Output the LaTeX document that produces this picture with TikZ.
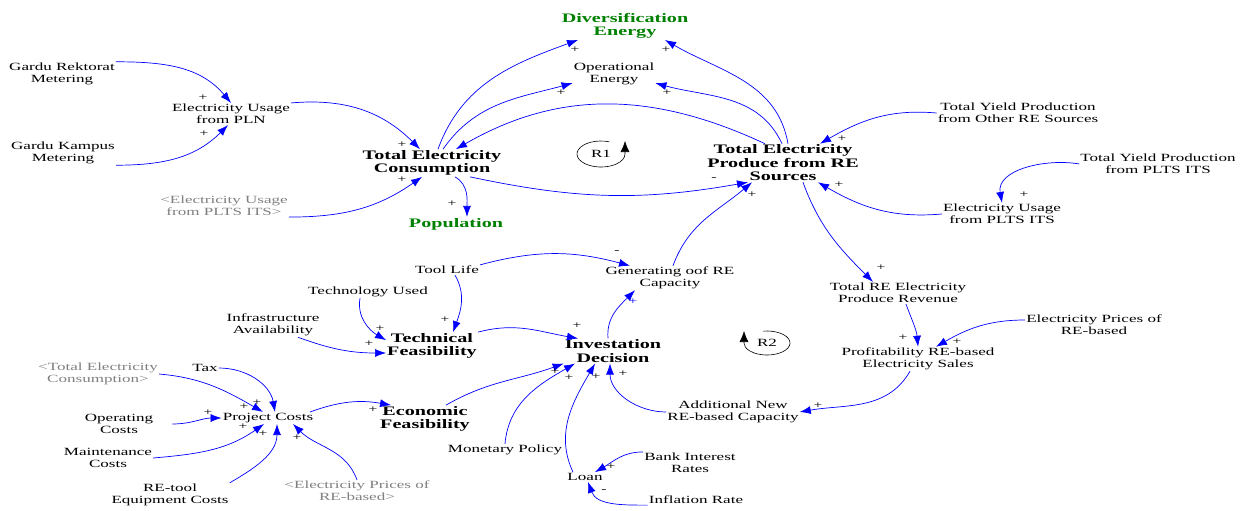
\documentclass[tikz,border=0pt]{standalone}
\usepackage{fontspec}
\setmainfont{Liberation Serif}[FakeStretch=1.55]
\usetikzlibrary{arrows.meta}
\definecolor{vgreen}{RGB}{0,128,0}
\definecolor{vgray}{RGB}{128,128,128}
\tikzset{
  var/.style={align=center,inner sep=1pt,font=\fontsize{11}{12}\selectfont},
  key/.style={var,font=\fontsize{13}{13.5}\selectfont\bfseries},
  goal/.style={key,text=vgreen},
  shadow/.style={var,text=vgray},
  link/.style={draw=blue,line width=0.7pt,-{Latex[length=11pt,width=8pt]}},
  loopar/.style={draw=black,line width=0.6pt,-{Latex[length=11pt,width=9pt]}},
  sgn/.style={inner sep=0pt,font=\fontsize{10}{10}\selectfont}
}
\begin{document}
\begin{tikzpicture}[x=1pt,y=-1pt]
\useasboundingbox (0,0) rectangle (1247,511);
		\begin{scope}[every node/.style={var}]
		\node (gardurek) at (62,74) {Gardu Rektorat\\Metering};
		\node (garduk) at (63,153) {Gardu Kampus\\Metering};
		\node (usagepln) at (231,114) {Electricity Usage\\from PLN};
		\node[shadow] (pltsgray) at (224,206) {<Electricity Usage\\from PLTS ITS>};
		\node[key] (totcons) at (432,163) {Total Electricity\\Consumption};
		\node[goal] (population) at (456,224) {Population};
		\node[goal] (diversif) at (625,26) {Diversification\\Energy};
		\node (opener) at (614,74) {Operational\\Energy};
		\node[key] (totprod) at (783,163) {Total Electricity\\Produce from RE\\Sources};
		\node (yieldother) at (1018,113) {Total Yield Production\\from Other RE Sources};
		\node (yieldplts) at (1158,164) {Total Yield Production\\from PLTS ITS};
		\node (usageplts) at (1002,214) {Electricity Usage\\from PLTS ITS};
		\node (totrev) at (898,293) {Total RE Electricity\\Produce Revenue};
		\node (elprice) at (1094,325) {Electricity Prices of\\RE-based};
		\node (profit) at (918,359) {Profitability RE-based\\Electricity Sales};
		\node (addcap) at (733,412) {Additional New\\RE-based Capacity};
		\node (gencap) at (670,278) {Generating oof RE\\Capacity};
		\node (toollife) at (447,270) {Tool Life};
		\node (techused) at (368,292) {Technology Used};
		\node (infra) at (273,325) {Infrastructure\\Availability};
		\node[key] (techfeas) at (432,346) {Technical\\Feasibility};
		\node[key] (invest) at (613,351) {Investation\\Decision};
		\node[key] (econfeas) at (425,419) {Economic\\Feasibility};
		\node (projcost) at (268,418) {Project Costs};
		\node (tax) at (205,368) {Tax};
		\node[shadow] (consgray) at (98,374) {<Total Electricity\\Consumption>};
		\node (opcost) at (119,424) {Operating\\Costs};
		\node (maintcost) at (108,458) {Maintenance\\Costs};
		\node (retool) at (170,495) {RE-tool\\Equipment Costs};
		\node[shadow] (pricegray) at (357,491) {<Electricity Prices of\\RE-based>};
		\node (monpol) at (505,450) {Monetary Policy};
		\node (loan) at (585,477) {Loan};
		\node (bankint) at (690,463) {Bank Interest\\Rates};
		\node (inflation) at (696,500) {Inflation Rate};
		\node (rone) at (601,154) {R1};
		\node (rtwo) at (767,343) {R2};
		\end{scope}

		\path (gardurek.north east) edge[link,out=0,in=130] (usagepln.north);
		\path (garduk.south east) edge[link,out=0,in=225] ([xshift=-3pt]usagepln.south);
		\path (usagepln.north east) edge[link,out=5,in=135] ([xshift=-12pt]totcons.north);
		\path (pltsgray.south east) edge[link,out=0,in=215] ([xshift=-10pt]totcons.south);
		\path ([xshift=23pt]totcons.south) edge[link,out=-30,in=90] ([xshift=11pt]population.north);
		\path ([xshift=6pt]totcons.north) edge[link,out=70,in=200] ([xshift=-47pt]diversif.south);
		\path ([xshift=11pt]totcons.north) edge[link,out=55,in=195] ([yshift=3pt]opener.south west);
		\path ([xshift=-18pt]totprod.north) edge[link,out=155,in=30] ([xshift=24pt]totcons.north);
		\path ([xshift=38pt]totcons.south) edge[link,out=-12,in=190] ([xshift=-35pt]totprod.south);
		\path ([xshift=5pt]totprod.north) edge[link,out=100,in=-30] ([xshift=40pt]diversif.south);
		\path ([xshift=-1pt]totprod.north) edge[link,out=115,in=-15] ([yshift=3pt]opener.south east);
		\path (yieldother.west) edge[link,out=175,in=30] ([xshift=37pt]totprod.north);
		\path (usageplts.west) edge[link,out=185,in=-30] ([xshift=35pt]totprod.south);
		\path (yieldplts.west) edge[link,out=170,in=100] (usageplts.north);
		\path ([xshift=20pt]totprod.south) edge[link,out=-70,in=135] ([xshift=-25pt]totrev.north);
		\path ([xshift=8pt]totrev.south) edge[link,out=-70,in=95] (profit.north);
		\path ([yshift=5pt]elprice.west) edge[link,out=180,in=30] ([xshift=18pt]profit.north);
		\path ([xshift=-8pt]profit.south) edge[link,out=-120,in=10] (addcap.east);
		\path (addcap.west) edge[link,out=180,in=-90] ([xshift=-3pt]invest.south);
		\path ([xshift=-5pt]invest.north) edge[link,out=95,in=225] ([xshift=-35pt]gencap.south);
		\path ([xshift=3pt]gencap.north) edge[link,out=70,in=220] ([xshift=-31pt]totprod.south);
		\path (toollife.north east) edge[link,out=15,in=165] ([xshift=-40pt]gencap.north);
		\path ([xshift=8pt]toollife.south) edge[link,out=-60,in=70] ([xshift=21pt]techfeas.north);
		\path ([xshift=-8pt]techused.south) edge[link,out=-100,in=150] ([yshift=-8pt]techfeas.north west);
		\path ([xshift=25pt]infra.south) edge[link,out=-20,in=180] ([yshift=-7pt]techfeas.west);
		\path (techfeas.north east) edge[link,out=15,in=170] ([xshift=-35pt]invest.north);
		\path ([xshift=21pt]econfeas.north) edge[link,out=30,in=200] (invest.south west);
		\path (monpol.north) edge[link,out=85,in=210] ([xshift=-38pt]invest.south);
		\path ([xshift=-12pt]loan.north) edge[link,out=115,in=240] ([xshift=-18pt]invest.south);
		\path ([xshift=42pt]projcost.north) edge[link,out=20,in=170] ([xshift=12pt]econfeas.north west);
		\path (tax.east) edge[link,out=0,in=100] ([xshift=7pt]projcost.north);
		\path (consgray.east) edge[link,out=-5,in=150] ([xshift=-5pt]projcost.north);
		\path ([xshift=18pt]opcost.east) edge[link,out=0,in=180] (projcost.west);
		\path (maintcost.east) edge[link,out=5,in=215] ([xshift=-4pt]projcost.south);
		\path (retool.north east) edge[link,out=30,in=-90] ([xshift=9pt]projcost.south);
		\path (pricegray.north) edge[link,out=110,in=-45] ([xshift=25pt]projcost.south);
		\path (bankint.north west) edge[link,out=180,in=30] ([xshift=10pt]loan.north);
		\path (inflation.south west) edge[link,out=180,in=-70] ([xshift=3pt]loan.south);

		\draw[loopar] (rone.center) ++(-70:24 and 13) arc[start angle=-70,end angle=-360,x radius=24,y radius=13] -- ++(0,-13);
		\draw[loopar] (rtwo.center) ++(-100:23 and 12) arc[start angle=-100,end angle=180,x radius=23,y radius=12] -- ++(0,-12);

		\foreach \x/\y [count=\i] in {203/98,204/134,402/145,402/180,575/50,561/93,666/50,667/93,452/204,
			842/139,839/185,1024/195,881/268,903/338,957/342,818/406,623/374,752/195,445/320,380/329,
			369/344,577/326,555/372,569/378,596/377,244/407,257/403,208/413,243/427,263/434,297/438,
			373/410,611/467}
			\node[sgn] (p\i) at (\x,\y) {+};
		\node[sgn,text=blue] (pgen) at (633,302) {+};
		\foreach \x/\y [count=\i] in {714/179,617/252,604/491}
			\node[sgn] (m\i) at (\x,\y) {-};
\end{tikzpicture}
\end{document}
